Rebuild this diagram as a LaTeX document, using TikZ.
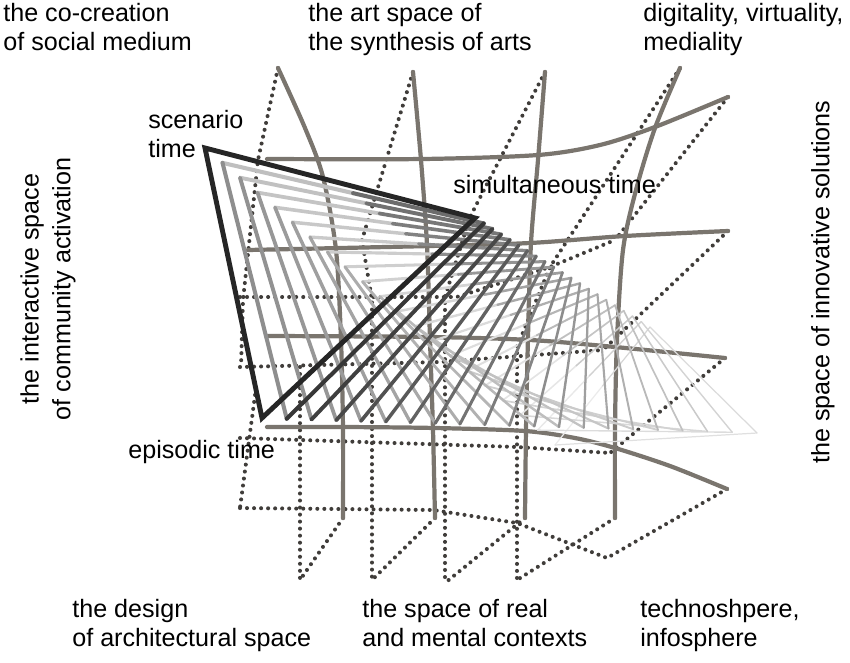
\documentclass[tikz,border=0pt]{standalone}
\usepackage{fontspec}
\setmainfont{Liberation Sans}
\usetikzlibrary{calc}
\definecolor{gridgray}{HTML}{7A756E}
\definecolor{dotgray}{HTML}{403D3A}

\begin{document}
\begin{tikzpicture}[
  x=0.02cm, y=-0.02cm,
  gridline/.style={draw=gridgray, line width=2.4pt, line cap=round},
  dotline/.style={draw=dotgray, line width=2.3pt, line cap=round, line join=round, dash pattern=on 0pt off 4pt},
  lab/.style={font=\fontsize{14.3}{16.5}\selectfont, inner sep=0pt, anchor=base west, align=left},
  vlab/.style={font=\fontsize{14.3}{18}\selectfont, inner sep=0pt, rotate=90, align=center}
]
\useasboundingbox (0,0) rectangle (850,663);

% dotted grid
\draw[dotline] (278,68) -- (258,160) -- (243,300) -- (241,367);
\draw[dotline] (256,388) -- (240,508);
\draw[dotline] (240,297) -- (457,297) -- (550,267) -- (615,240);
\draw[dotline] (240,367) -- (440,362) -- (603,350);
\draw[dotline] (240,438) -- (517,447) -- (610,453);
\draw[dotline] (240,508) -- (433,510) -- (517,523) -- (607,558);
\draw[dotline] (728,97) -- (615,240);
\draw[dotline] (728,231) -- (603,350);
\draw[dotline] (725,358) -- (610,453);
\draw[dotline] (727,489) -- (607,558);
\draw[dotline] (413,72) -- (362,240) -- (372,300) -- (372,580);
\draw[dotline] (545,72) -- (470,217) -- (445,297) -- (445,583);
\draw[dotline] (680,68) -- (550,267) -- (517,347) -- (517,580);
\draw[dotline] (300,367) -- (300,580);
\draw[dotline] (343,518) -- (300,580);
\draw[dotline] (435,518) -- (372,580);
\draw[dotline] (525,518) -- (445,583);
\draw[dotline] (615,518) -- (517,580);

% solid grid
\draw[gridline] plot[smooth] coordinates {(278,68) (305,128) (323,177) (336,250) (341,340) (343,430) (343,518)};
\draw[gridline] plot[smooth] coordinates {(413,72) (421,160) (427,245) (430,340) (433,430) (435,518)};
\draw[gridline] plot[smooth] coordinates {(545,72) (538,160) (531,243) (528,337) (526,430) (525,518)};
\draw[gridline] plot[smooth] coordinates {(680,68) (655,128) (636,190) (623,250) (617,340) (615,430) (615,518)};
\draw[gridline] plot[smooth] coordinates {(267,159) (423,159) (538,155) (600,145) (655,127) (728,97)};
\draw[gridline] plot[smooth] coordinates {(248,250) (430,246) (530,243) (625,236) (728,231)};
\draw[gridline] plot[smooth] coordinates {(268,336) (430,337) (530,340) (615,347) (725,358)};
\draw[gridline] plot[smooth] coordinates {(267,427) (343,427) (435,428) (525,431) (575,438) (615,448) (670,466) (727,489)};

% moving triangles
\coordinate (scen) at (205,148);
\coordinate (simu) at (475,218);
\coordinate (epis) at (262,418);
\coordinate (pend) at (555,445);
\coordinate (qend) at (650,327);
\coordinate (rend) at (757,433);
\foreach \i in {20,19,...,1}{
  \pgfmathsetmacro\s{\i/20}
  \pgfmathsetmacro\w{2.4-1.7*\s}
  \pgfmathsetmacro\cpa{26-18*\s}
  \pgfmathsetmacro\cpb{60-44*\s}
  \pgfmathsetmacro\cpr{46-34*\s}
  \pgfmathsetmacro\crq{82-68*\s}
  \coordinate (p) at ($(scen)!\s!(pend)$);
  \coordinate (q) at ($(simu)!\s!(qend)$);
  \coordinate (r) at ($(epis)!\s!(rend)$);
  \draw[line width=\w pt, line cap=round, black!\cpa] (p) -- ($(p)!0.5!(q)$);
  \draw[line width=\w pt, line cap=round, black!\cpb] ($(p)!0.5!(q)$) -- (q);
  \draw[line width=\w pt, line cap=round, black!\cpr] (p) -- (r);
  \draw[line width=\w pt, line cap=round, black!\crq] (r) -- (q);
}
\draw[line width=2.8pt, black!85, line join=miter] (scen) -- (simu) -- (epis) -- cycle;

% labels (base = last line)
\node[lab] (cocreat) at (3,50) {the co-creation\\of social medium};
\node[lab] (artspace) at (308,50) {the art space of\\the synthesis of arts};
\node[lab] (digital) at (643,50) {digitality, virtuality,\\mediality};
\node[lab] (scenlab) at (148,157) {scenario\\time};
\node[lab] (simulab) at (453,193) {simultaneous time};
\node[lab] (epislab) at (128,458) {episodic time};
\node[lab] (design) at (72,646) {the design\\of architectural space};
\node[lab] (realctx) at (362,646) {the space of real\\and mental contexts};
\node[lab] (techno) at (640,646) {technoshpere,\\infosphere};
\node[vlab] (interact) at (48,289) {the interactive space\\of community activation};
\node[vlab] (innov) at (823,282) {the space of innovative solutions};
\end{tikzpicture}
\end{document}
